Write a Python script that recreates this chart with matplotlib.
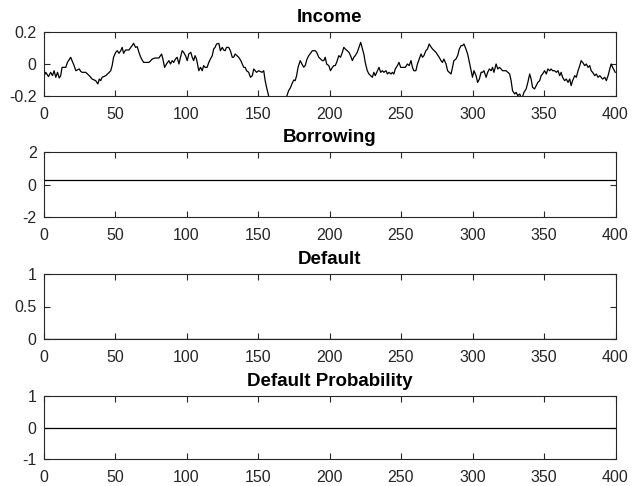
import numpy as np
import matplotlib.pyplot as plt

plt.rcParams['font.family'] = ['Liberation Sans', 'DejaVu Sans']

# income path (period, value)
income_t = [0, 1.6, 3.5, 5, 6.3, 7.4, 8.6, 9.8, 11, 12, 13, 15.6, 16.7, 19, 21.4, 22.6, 25, 26, 27, 29.5,
            32, 34, 36.5, 38, 39, 40, 41, 43.5, 46, 47, 48, 49, 50.5, 51.6, 52.8, 54, 55, 56, 57.4, 59.8,
            61, 62, 63, 64.4, 65.6, 66.7, 68, 69, 70, 72.6, 73.7, 75, 76, 78, 80.7, 82.6, 83.5, 84.7, 86, 87.7,
            88.8, 90, 91, 92.3, 93.5, 94.7, 95.8, 97, 98, 99.3, 100.5, 101.6, 103, 104, 105, 106, 107, 108.6, 109.8, 111,
            112, 113, 114.4, 115.6, 116.7, 118, 119, 120, 121, 122.6, 123.7, 125, 126, 127, 128, 129.5, 130.7, 132, 133, 134,
            136.5, 138, 139, 140, 141, 142, 143.5, 144.7, 146, 147, 148, 149, 150.5, 152.8, 154, 155, 156, 157.4, 158.6, 160.5,
            163, 166, 168.5, 170, 171.4, 172.6, 173.7, 175, 176, 177, 178, 179.5, 180.7, 182, 183, 184.3, 185.5, 188, 190, 191,
            192.5, 195, 196, 197, 198, 199.5, 200.7, 202, 203, 204, 205, 206.5, 207.7, 209, 210, 211, 212.4, 213.6, 214.7, 216,
            217, 218, 219.4, 220.6, 221.8, 223, 224, 225, 226.4, 227.6, 228.8, 230, 231, 232, 233.5, 234.6, 235.8, 237, 238, 239.5,
            240.5, 241.6, 243, 244, 245, 246, 247.5, 248.6, 249.8, 251, 253, 254.5, 255.7, 257, 258, 259, 260.4, 261.5, 262.7, 264,
            265, 266, 267.4, 268.5, 269.7, 270.9, 272, 274.4, 276.7, 278, 279, 280, 281.5, 282.6, 283.7, 285, 286, 287, 288.4, 289.6,
            290.8, 292, 293, 294, 295.4, 296.6, 297.8, 299, 300, 301, 302.5, 303.6, 304.8, 306, 307, 308, 309.5, 310.6, 311.8, 313,
            314, 315, 316.5, 317.7, 318.8, 320, 321, 323.5, 324.7, 326, 327, 328, 329.5, 330.5, 331.7, 333, 334, 335, 336, 337.5,
            338.7, 340, 341, 342, 343.4, 344.6, 345.7, 347, 348, 349, 350.4, 351.6, 352.7, 354, 355, 356, 357.4, 358.6, 359.8, 361,
            362, 363, 364.4, 365.6, 366.8, 368, 369, 370, 371.5, 372.6, 373.8, 375, 376, 377, 378.5, 379.6, 380.8, 382, 383, 384,
            385.5, 386.6, 387.8, 389, 390, 391, 392.5, 393.6, 394.8, 396, 397, 398, 399.8]
income = [-0.083, -0.052, -0.079, -0.052, -0.073, -0.042, -0.083, -0.052, -0.0875, -0.073, -0.021, -0.021, 0.010, 0.042, -0.010, -0.042, -0.031, -0.046, -0.052, -0.052,
          -0.073, -0.094, -0.104, -0.125, -0.094, -0.104, -0.083, -0.073, -0.052, -0.042, -0.010, 0.042, 0.073, 0.083, 0.067, 0.083, 0.104, 0.067, 0.0875, 0.0875,
          0.104, 0.115, 0.129, 0.104, 0.108, 0.073, 0.042, 0.025, 0.010, 0.010, 0.010, 0.021, 0.031, 0.0375, 0.0375, 0.0625, 0.031, -0.021, 0.0, 0.021,
          0.0, 0.021, 0.010, 0.031, 0.042, 0.0, 0.042, 0.083, 0.073, 0.052, 0.021, 0.0625, 0.073, 0.042, 0.021, 0.052, 0.031, -0.042, -0.021, -0.042,
          -0.010, -0.021, -0.021, 0.010, 0.031, 0.052, 0.094, 0.104, 0.125, 0.129, 0.083, 0.104, 0.0875, 0.083, 0.104, 0.104, 0.083, 0.042, 0.042, 0.0625,
          0.042, 0.021, 0.0, -0.021, -0.021, -0.042, -0.052, -0.083, -0.073, -0.031, -0.042, -0.052, -0.042, -0.052, -0.042, -0.104, -0.146, -0.198, -0.23, -0.25,
          -0.27, -0.26, -0.23, -0.204, -0.167, -0.15, -0.125, -0.10, -0.104, -0.073, -0.021, 0.021, 0.0, -0.02, -0.01, 0.031, 0.052, 0.083, 0.083, 0.073,
          0.042, 0.021, 0.021, 0.042, 0.0, -0.010, -0.042, -0.021, -0.010, -0.010, 0.010, 0.052, 0.042, 0.073, 0.104, 0.094, 0.083, 0.073, 0.052, 0.021,
          0.042, 0.052, 0.073, 0.104, 0.135, 0.094, 0.0625, 0.010, -0.042, -0.0625, -0.073, -0.083, -0.052, -0.073, -0.042, -0.021, -0.052, -0.042, -0.052, -0.042,
          -0.0625, -0.052, -0.0625, -0.052, -0.0625, -0.031, -0.010, 0.010, -0.021, -0.021, -0.021, 0.0, -0.010, 0.021, -0.021, -0.042, -0.042, 0.0, 0.031, 0.0625,
          0.042, 0.052, 0.083, 0.094, 0.125, 0.108, 0.094, 0.073, 0.042, 0.021, 0.010, 0.031, 0.0, -0.042, -0.052, -0.0625, -0.021, 0.021, 0.031, 0.052,
          0.094, 0.115, 0.115, 0.125, 0.094, 0.0625, 0.010, -0.042, -0.083, -0.042, -0.073, -0.115, -0.094, -0.052, -0.052, -0.042, -0.083, -0.052, -0.031, -0.042,
          -0.021, -0.052, 0.0, -0.031, -0.021, -0.031, -0.042, -0.042, -0.052, -0.0625, -0.104, -0.167, -0.1875, -0.177, -0.198, -0.1875, -0.208, -0.204, -0.177, -0.156,
          -0.115, -0.0625, -0.094, -0.146, -0.156, -0.135, -0.115, -0.104, -0.073, -0.0625, -0.042, -0.0625, -0.031, -0.042, -0.031, -0.042, -0.042, -0.052, -0.042, -0.073,
          -0.052, -0.083, -0.104, -0.094, -0.115, -0.094, -0.135, -0.104, -0.073, -0.083, -0.042, -0.010, 0.021, 0.010, -0.010, 0.0, -0.021, -0.010, -0.042, -0.052,
          -0.073, -0.0625, -0.083, -0.073, -0.083, -0.094, -0.083, -0.104, -0.073, -0.031, 0.0, -0.021, -0.052]

periods = [0, 400]
borrowing = [0.3, 0.3]
default = [0, 0]
default_prob = [0, 0]

titles = ['Income', 'Borrowing', 'Default', 'Default Probability']
ylims = [(-0.2, 0.2), (-2, 2), (0, 1), (-1, 1)]
yticks = [[-0.2, 0, 0.2], [-2, 0, 2], [0, 0.5, 1], [-1, 0, 1]]
yticklabels = [['-0.2', '0', '0.2'], ['-2', '0', '2'], ['0', '0.5', '1'], ['-1', '0', '1']]
xticks = [0, 50, 100, 150, 200, 250, 300, 350, 400]

fig = plt.figure(figsize=(6.33, 4.86), dpi=100)
W, H = 633, 486
# axes boxes in pixels: (top, bottom)
boxes = [(32, 96), (152, 217), (274, 339), (396, 459)]
left, right = 43.5, 615.5

series = [(income_t, income), (periods, borrowing), (periods, default), (periods, default_prob)]

axc = '#262626'
for i, (top, bot) in enumerate(boxes):
    ax = fig.add_axes([left / W, 1 - bot / H, (right - left) / W, (bot - top) / H])
    x, y = series[i]
    ax.plot(x, y, color='black', lw=0.9, clip_on=True)
    ax.set_xlim(0, 400)
    ax.set_ylim(*ylims[i])
    ax.set_xticks(xticks)
    ax.set_xticklabels([str(t) for t in xticks])
    ax.set_yticks(yticks[i])
    ax.set_yticklabels(yticklabels[i])
    ax.tick_params(direction='in', length=4, width=0.8, top=True, right=True,
                   labelsize=11.5, colors=axc, labelcolor=axc)
    ax.tick_params(axis='x', pad=8)
    ax.tick_params(axis='y', pad=5)
    for s in ax.spines.values():
        s.set_color(axc)
        s.set_linewidth(0.8)
    ax.set_title(titles[i], fontsize=13.5, fontweight='bold', pad=7, color='black')

fig.savefig('out.png', dpi=100)
